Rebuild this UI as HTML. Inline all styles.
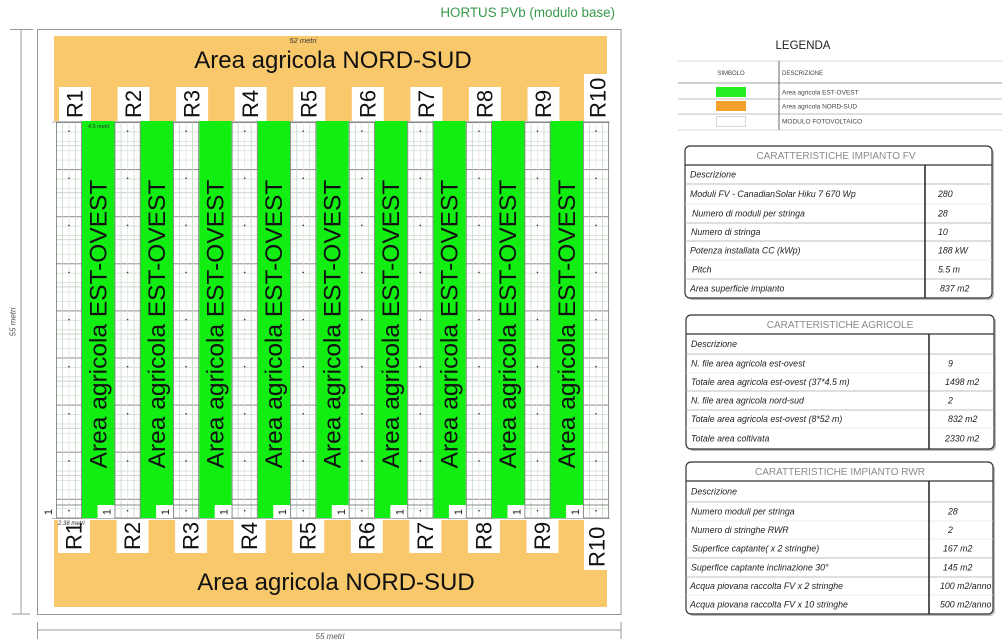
<!DOCTYPE html>
<html><head><meta charset="utf-8"><style>
html,body{margin:0;padding:0;background:#fff;}
svg{display:block;font-family:"Liberation Sans",Arial,sans-serif;}
.it{font-style:italic;}
</style></head><body>
<svg width="1002" height="642" viewBox="0 0 1002 642" xmlns="http://www.w3.org/2000/svg">
<defs>
<pattern id="hp" patternUnits="userSpaceOnUse" x="0" y="122" width="26" height="47.1">
<rect width="26" height="47.1" fill="#fff"/>
<line x1="0" x2="26" y1="0.5" y2="0.5" stroke="#8c8c8c" stroke-width="0.9"/>
<line x1="0" x2="26" y1="9.9" y2="9.9" stroke="#cddbcd" stroke-width="0.7"/>
<line x1="0" x2="26" y1="19.3" y2="19.3" stroke="#cddbcd" stroke-width="0.7"/>
<line x1="0" x2="26" y1="23.6" y2="23.6" stroke="#b5b5b5" stroke-width="0.7"/>
<line x1="0" x2="26" y1="28.7" y2="28.7" stroke="#cddbcd" stroke-width="0.7"/>
<line x1="0" x2="26" y1="38.1" y2="38.1" stroke="#cddbcd" stroke-width="0.7"/>
</pattern>
<g id="m">
<rect x="0" y="122" width="26" height="396" fill="url(#hp)"/>
<line x1="6.5" x2="6.5" y1="122" y2="518" stroke="#c3d8c3" stroke-width="0.8"/>
<line x1="13" x2="13" y1="122" y2="518" stroke="#e2e2e2" stroke-width="0.7"/>
<line x1="19.5" x2="19.5" y1="122" y2="518" stroke="#c3d8c3" stroke-width="0.8"/>
<line x1="0" x2="26" y1="505" y2="505" stroke="#666" stroke-width="0.8"/>
<rect x="0.4" y="122" width="25.2" height="396" fill="none" stroke="#777" stroke-width="0.8"/>
<g fill="#333">
<rect x="12.3" y="130.5" width="1.4" height="1.4"/>
<rect x="12.3" y="177.6" width="1.4" height="1.4"/>
<rect x="12.3" y="224.7" width="1.4" height="1.4"/>
<rect x="12.3" y="271.8" width="1.4" height="1.4"/>
<rect x="12.3" y="318.9" width="1.4" height="1.4"/>
<rect x="12.3" y="366" width="1.4" height="1.4"/>
<rect x="12.3" y="413.1" width="1.4" height="1.4"/>
<rect x="12.3" y="460.2" width="1.4" height="1.4"/>
<rect x="12.3" y="510" width="1.4" height="1.4"/>
</g>
</g>
</defs>

<!-- Title -->
<text x="615" y="17" font-size="13.4" fill="#3a9a4c" text-anchor="end">HORTUS PVb (modulo base)</text>

<!-- dimension lines left -->
<g stroke="#999" stroke-width="1" fill="none">
<line x1="21" y1="29" x2="21" y2="614"/>
<line x1="10" y1="29.5" x2="33" y2="29.5"/>
<line x1="12" y1="614" x2="30" y2="614"/>
<line x1="47" y1="36" x2="47" y2="120"/>
<line x1="43" y1="36" x2="51" y2="36"/>
<line x1="43" y1="120" x2="51" y2="120"/>
<line x1="47" y1="123" x2="47" y2="518"/>
<line x1="43" y1="123" x2="51" y2="123"/>
<line x1="43" y1="518" x2="51" y2="518"/>
<line x1="37" y1="630" x2="621" y2="630"/>
<line x1="37.5" y1="622" x2="37.5" y2="639"/>
<line x1="621" y1="622" x2="621" y2="639"/>
</g>
<text class="it" font-size="8" fill="#555" text-anchor="middle" dominant-baseline="central" transform="translate(13,322) rotate(-90)">55 metri</text>
<text class="it" font-size="7.5" fill="#555" text-anchor="middle" dominant-baseline="central" transform="translate(40,75) rotate(-90)">8 metri</text>
<text class="it" font-size="7.5" fill="#555" text-anchor="middle" dominant-baseline="central" transform="translate(40,322) rotate(-90)">37 metri</text>
<text class="it" font-size="8" fill="#555" text-anchor="middle" x="330" y="639">55 metri</text>

<!-- frame -->
<rect x="37.5" y="29.5" width="583.5" height="585" fill="#fff" stroke="#999" stroke-width="1"/>

<!-- orange areas -->
<rect x="54" y="36" width="553" height="85" fill="#f9c86b"/>
<rect x="54" y="520" width="553" height="87" fill="#f9c86b"/>
<text class="it" font-size="7.5" fill="#333" text-anchor="middle" x="303" y="43">52 metri</text>
<text font-size="24" fill="#111" text-anchor="middle" x="333" y="68">Area agricola NORD-SUD</text>
<text font-size="24" fill="#111" text-anchor="middle" x="336" y="590">Area agricola NORD-SUD</text>

<!-- top R boxes -->
<g fill="#fff">
<rect x="59" y="87" width="32" height="34"/>
<rect x="117.56" y="87" width="32" height="34"/>
<rect x="176.12" y="87" width="32" height="34"/>
<rect x="234.68" y="87" width="32" height="34"/>
<rect x="293.24" y="87" width="32" height="34"/>
<rect x="351.8" y="87" width="32" height="34"/>
<rect x="410.36" y="87" width="32" height="34"/>
<rect x="468.92" y="87" width="32" height="34"/>
<rect x="527.48" y="87" width="32" height="34"/>
<rect x="584" y="74" width="24" height="47"/>
</g>
<g font-size="22" fill="#111" dominant-baseline="central">
<text transform="translate(75,118) rotate(-90)">R1</text>
<text transform="translate(133.56,118) rotate(-90)">R2</text>
<text transform="translate(192.12,118) rotate(-90)">R3</text>
<text transform="translate(250.68,118) rotate(-90)">R4</text>
<text transform="translate(309.24,118) rotate(-90)">R5</text>
<text transform="translate(367.8,118) rotate(-90)">R6</text>
<text transform="translate(426.36,118) rotate(-90)">R7</text>
<text transform="translate(484.92,118) rotate(-90)">R8</text>
<text transform="translate(543.48,118) rotate(-90)">R9</text>
<text transform="translate(598,118) rotate(-90)">R10</text>
</g>

<!-- bottom R boxes -->
<g fill="#fff">
<rect x="58" y="520" width="32" height="33"/>
<rect x="116.56" y="520" width="32" height="33"/>
<rect x="175.12" y="520" width="32" height="33"/>
<rect x="233.68" y="520" width="32" height="33"/>
<rect x="292.24" y="520" width="32" height="33"/>
<rect x="350.8" y="520" width="32" height="33"/>
<rect x="409.36" y="520" width="32" height="33"/>
<rect x="467.92" y="520" width="32" height="33"/>
<rect x="526.48" y="520" width="32" height="33"/>
<rect x="584" y="520" width="24" height="50"/>
</g>
<g font-size="22" fill="#111" dominant-baseline="central">
<text transform="translate(74,550) rotate(-90)">R1</text>
<text transform="translate(132.56,550) rotate(-90)">R2</text>
<text transform="translate(191.12,550) rotate(-90)">R3</text>
<text transform="translate(249.68,550) rotate(-90)">R4</text>
<text transform="translate(308.24,550) rotate(-90)">R5</text>
<text transform="translate(366.8,550) rotate(-90)">R6</text>
<text transform="translate(425.36,550) rotate(-90)">R7</text>
<text transform="translate(483.92,550) rotate(-90)">R8</text>
<text transform="translate(542.48,550) rotate(-90)">R9</text>
<text transform="translate(597,567) rotate(-90)">R10</text>
</g>
<text class="it" font-size="6" fill="#333" x="58" y="525">2.38 metri</text>

<!-- row area lines -->
<line x1="52" y1="122" x2="610" y2="122" stroke="#999" stroke-width="0.8"/>
<line x1="52" y1="518.5" x2="610" y2="518.5" stroke="#999" stroke-width="0.8"/>

<!-- green strips -->
<g fill="#12ee12">
<rect x="82" y="121" width="32.56" height="397"/>
<rect x="140.56" y="121" width="32.56" height="397"/>
<rect x="199.12" y="121" width="32.56" height="397"/>
<rect x="257.68" y="121" width="32.56" height="397"/>
<rect x="316.24" y="121" width="32.56" height="397"/>
<rect x="374.8" y="121" width="32.56" height="397"/>
<rect x="433.36" y="121" width="32.56" height="397"/>
<rect x="491.92" y="121" width="32.56" height="397"/>
<rect x="550.48" y="121" width="32.56" height="397"/>
</g>
<g fill="#fff">
<rect x="97.56" y="505" width="17" height="13"/>
<rect x="156.12" y="505" width="17" height="13"/>
<rect x="214.68" y="505" width="17" height="13"/>
<rect x="273.24" y="505" width="17" height="13"/>
<rect x="331.8" y="505" width="17" height="13"/>
<rect x="390.36" y="505" width="17" height="13"/>
<rect x="448.92" y="505" width="17" height="13"/>
<rect x="507.48" y="505" width="17" height="13"/>
<rect x="566.04" y="505" width="17" height="13"/>
</g>
<g font-size="24.5" fill="#111" text-anchor="middle" dominant-baseline="central">
<text transform="translate(98.8,324) rotate(-90)">Area agricola EST-OVEST</text>
<text transform="translate(157.36,324) rotate(-90)">Area agricola EST-OVEST</text>
<text transform="translate(215.92,324) rotate(-90)">Area agricola EST-OVEST</text>
<text transform="translate(274.48,324) rotate(-90)">Area agricola EST-OVEST</text>
<text transform="translate(333.04,324) rotate(-90)">Area agricola EST-OVEST</text>
<text transform="translate(391.6,324) rotate(-90)">Area agricola EST-OVEST</text>
<text transform="translate(450.16,324) rotate(-90)">Area agricola EST-OVEST</text>
<text transform="translate(508.72,324) rotate(-90)">Area agricola EST-OVEST</text>
<text transform="translate(567.28,324) rotate(-90)">Area agricola EST-OVEST</text>
</g>
<text class="it" font-size="5.5" fill="#333" x="88" y="128">4.5 metri</text>

<!-- modules -->
<use href="#m" x="56"/>
<use href="#m" x="114.56"/>
<use href="#m" x="173.12"/>
<use href="#m" x="231.68"/>
<use href="#m" x="290.24"/>
<use href="#m" x="348.8"/>
<use href="#m" x="407.36"/>
<use href="#m" x="465.92"/>
<use href="#m" x="524.48"/>
<use href="#m" x="583.04"/>

<!-- "1" labels -->
<g font-size="11" fill="#222" text-anchor="middle" dominant-baseline="central">
<text transform="translate(49,512) rotate(-90)">1</text>
<text transform="translate(107.56,512) rotate(-90)">1</text>
<text transform="translate(166.12,512) rotate(-90)">1</text>
<text transform="translate(224.68,512) rotate(-90)">1</text>
<text transform="translate(283.24,512) rotate(-90)">1</text>
<text transform="translate(341.8,512) rotate(-90)">1</text>
<text transform="translate(400.36,512) rotate(-90)">1</text>
<text transform="translate(458.92,512) rotate(-90)">1</text>
<text transform="translate(517.48,512) rotate(-90)">1</text>
<text transform="translate(576.04,512) rotate(-90)">1</text>
</g>

<!-- LEGENDA -->
<text x="803" y="49" font-size="11.5" fill="#222" text-anchor="middle">LEGENDA</text>
<g stroke-width="0.8">
<line x1="678" y1="61" x2="1002" y2="61" stroke="#cfcfcf"/>
<line x1="678" y1="83" x2="1002" y2="83" stroke="#888"/>
<line x1="678" y1="99" x2="1002" y2="99" stroke="#aaa"/>
<line x1="678" y1="114" x2="1002" y2="114" stroke="#aaa"/>
<line x1="678" y1="130" x2="1002" y2="130" stroke="#cfcfcf"/>
<line x1="779" y1="61" x2="779" y2="130" stroke="#444"/>
</g>
<rect x="716" y="87" width="30" height="10" fill="#22ee22"/>
<rect x="716" y="101" width="30" height="10" fill="#f4a02c"/>
<rect x="716.5" y="116.5" width="29" height="10" fill="#fff" stroke="#ccc" stroke-width="0.8"/>
<g font-size="6" fill="#444">
<text x="731" y="75" text-anchor="middle">SIMBOLO</text>
<text x="782" y="75">DESCRIZIONE</text>
<text x="782" y="94.5" font-size="6.5">Area agricola EST-OVEST</text>
<text x="782" y="108.5" font-size="6.5">Area agricola NORD-SUD</text>
<text x="782" y="123.5" font-size="6.5">MODULO FOTOVOLTAICO</text>
</g>

<!-- TABLE 1 -->
<rect x="687" y="148" width="307" height="152" rx="5" fill="#bbb"/>
<rect x="685" y="146" width="307" height="152" rx="5" fill="#fff" stroke="#333" stroke-width="1.2"/>
<line x1="685" y1="165" x2="992" y2="165" stroke="#333" stroke-width="1.2"/>
<g stroke-width="0.8">
<line x1="685" y1="184" x2="992" y2="184" stroke="#aaa"/>
<line x1="685" y1="204" x2="992" y2="204" stroke="#e6e6e6"/>
<line x1="685" y1="223" x2="992" y2="223" stroke="#aaa"/>
<line x1="685" y1="241" x2="992" y2="241" stroke="#aaa"/>
<line x1="685" y1="260" x2="992" y2="260" stroke="#e6e6e6"/>
<line x1="685" y1="279" x2="992" y2="279" stroke="#aaa"/>
</g>
<line x1="925" y1="165" x2="925" y2="298" stroke="#222" stroke-width="1.5"/>
<text x="836" y="159" font-size="10" fill="#8a8a8a" text-anchor="middle">CARATTERISTICHE IMPIANTO FV</text>
<g class="it" font-size="8.8" fill="#222">
<text x="690" y="177.5">Descrizione</text>
<text x="690" y="197">Moduli FV - CanadianSolar Hiku 7 670 Wp</text>
<text x="692" y="216.5">Numero di moduli per stringa</text>
<text x="691" y="235">Numero di stringa</text>
<text x="690" y="253.5">Potenza installata CC (kWp)</text>
<text x="692" y="272.5">Pitch</text>
<text x="690" y="291.5">Area superficie impianto</text>
<text x="938" y="197">280</text>
<text x="938" y="216.5">28</text>
<text x="938" y="235">10</text>
<text x="938" y="253.5">188 kW</text>
<text x="938" y="272.5">5.5 m</text>
<text x="940" y="291.5">837 m2</text>
</g>

<!-- TABLE 2 -->
<rect x="688" y="317" width="308" height="134" rx="5" fill="#bbb"/>
<rect x="686" y="315" width="308" height="134" rx="5" fill="#fff" stroke="#333" stroke-width="1.2"/>
<line x1="686" y1="334" x2="994" y2="334" stroke="#333" stroke-width="1.2"/>
<g stroke-width="0.8">
<line x1="686" y1="354" x2="994" y2="354" stroke="#aaa"/>
<line x1="686" y1="373" x2="994" y2="373" stroke="#e6e6e6"/>
<line x1="686" y1="391" x2="994" y2="391" stroke="#aaa"/>
<line x1="686" y1="410" x2="994" y2="410" stroke="#aaa"/>
<line x1="686" y1="428" x2="994" y2="428" stroke="#e6e6e6"/>
</g>
<line x1="929" y1="334" x2="929" y2="449" stroke="#222" stroke-width="1.5"/>
<text x="840" y="328" font-size="10" fill="#8a8a8a" text-anchor="middle">CARATTERISTICHE AGRICOLE</text>
<g class="it" font-size="8.8" fill="#222">
<text x="691" y="347">Descrizione</text>
<text x="691" y="366.5">N. file area agricola est-ovest</text>
<text x="691" y="385">Totale area agricola est-ovest (37*4.5 m)</text>
<text x="691" y="403.5">N. file area agricola nord-sud</text>
<text x="691" y="422">Totale area agricola est-ovest (8*52 m)</text>
<text x="691" y="441.5">Totale area coltivata</text>
<text x="948" y="366.5">9</text>
<text x="945" y="385">1498 m2</text>
<text x="948" y="403.5">2</text>
<text x="948" y="422">832 m2</text>
<text x="945" y="441.5">2330 m2</text>
</g>

<!-- TABLE 3 -->
<rect x="688" y="464" width="307" height="152" rx="5" fill="#bbb"/>
<rect x="686" y="462" width="307" height="152" rx="5" fill="#fff" stroke="#333" stroke-width="1.2"/>
<line x1="686" y1="481" x2="993" y2="481" stroke="#333" stroke-width="1.2"/>
<g stroke-width="0.8">
<line x1="686" y1="502" x2="993" y2="502" stroke="#aaa"/>
<line x1="686" y1="521" x2="993" y2="521" stroke="#e6e6e6"/>
<line x1="686" y1="539" x2="993" y2="539" stroke="#e6e6e6"/>
<line x1="686" y1="558" x2="993" y2="558" stroke="#aaa"/>
<line x1="686" y1="577" x2="993" y2="577" stroke="#aaa"/>
<line x1="686" y1="595" x2="993" y2="595" stroke="#e6e6e6"/>
</g>
<line x1="929" y1="481" x2="929" y2="614" stroke="#222" stroke-width="1.5"/>
<text x="840" y="475" font-size="10" fill="#8a8a8a" text-anchor="middle">CARATTERISTICHE IMPIANTO RWR</text>
<g class="it" font-size="8.8" fill="#222">
<text x="691" y="494.5">Descrizione</text>
<text x="691" y="514.5">Numero moduli per stringa</text>
<text x="691" y="533">Numero di stringhe RWR</text>
<text x="692" y="551.5">Superfice captante( x 2 stringhe)</text>
<text x="691" y="570.5">Superfice captante inclinazione 30°</text>
<text x="690" y="589">Acqua piovana raccolta FV x 2 stringhe</text>
<text x="690" y="607.5">Acqua piovana raccolta FV x 10 stringhe</text>
<text x="948" y="514.5">28</text>
<text x="948" y="533">2</text>
<text x="943" y="551.5">167 m2</text>
<text x="943" y="570.5">145 m2</text>
<text x="940" y="589">100 m2/anno</text>
<text x="940" y="607.5">500 m2/anno</text>
</g>
</svg>
</body></html>
